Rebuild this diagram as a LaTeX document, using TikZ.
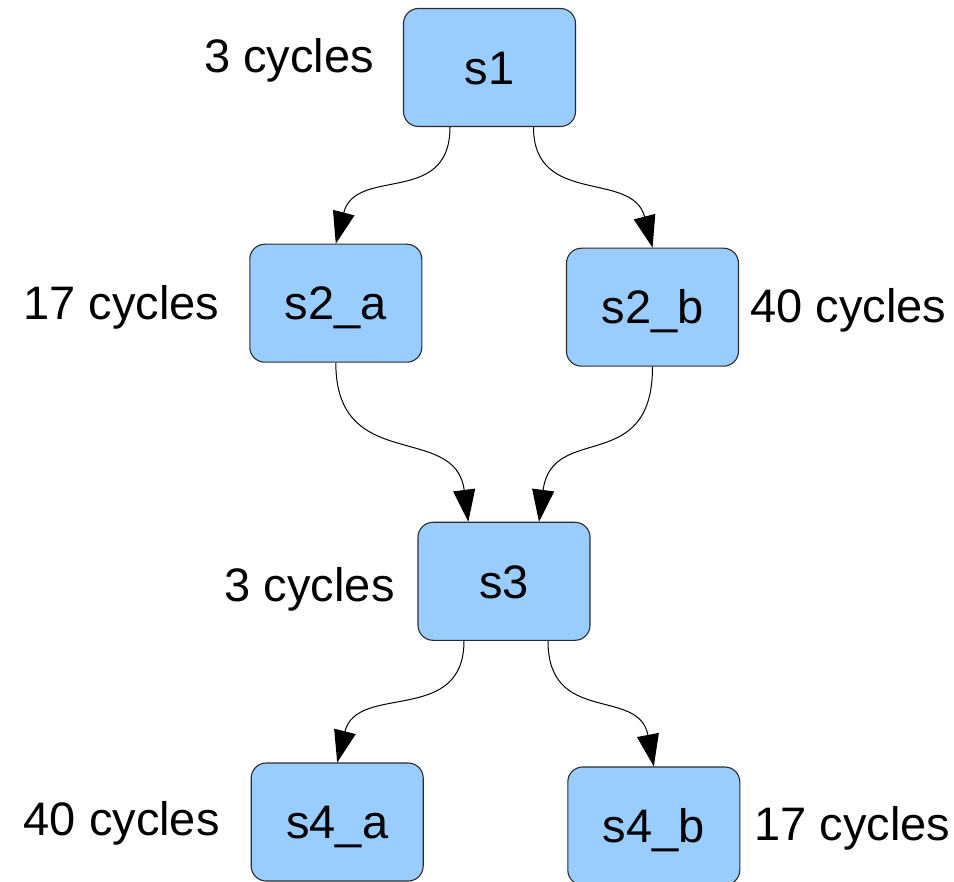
\documentclass[tikz,border=0pt]{standalone}
\usepackage{fontspec}
\setmainfont{Liberation Sans}
\usetikzlibrary{arrows.meta,calc}

\definecolor{stagefill}{HTML}{99CCFF}
\definecolor{stageline}{HTML}{2B2B2B}

\begin{document}
\begin{tikzpicture}[
  x=1pt, y=-1pt,
  every node/.style={font=\fontsize{47}{56}\selectfont, inner sep=0pt},
  stage/.style={draw=stageline, line width=1.1pt, fill=stagefill,
    rounded corners=15pt, minimum width=172pt, minimum height=118pt,
    text height=33.5pt, text depth=0pt},
  cycles/.style={anchor=base},
  conn/.style={draw=black, line width=1pt,
    -{Triangle[length=32pt,width=22pt]}}
]
\useasboundingbox (0,0) rectangle (954,882);

% pipeline stages
\node[stage] (s1)  at (489.5,67.5)  {s1};
\node[stage] (s2a) at (335.8,303.2) {s2\_a};
\node[stage] (s2b) at (652.5,307.2) {s2\_b};
\node[stage] (s3)  at (504,581.3)   {s3};
\node[stage] (s4a) at (337.2,822)   {s4\_a};
\node[stage] (s4b) at (653.8,826)   {s4\_b};

% latency of each stage
\node[cycles] (l1)  at (289.2,72.7)  {3 cycles};
\node[cycles] (l2a) at (121.2,319.3) {17 cycles};
\node[cycles] (l2b) at (848.4,322.3) {40 cycles};
\node[cycles] (l3)  at (309.7,601.7) {3 cycles};
\node[cycles] (l4a) at (121.7,835.7) {40 cycles};
\node[cycles] (l4b) at (852.5,840)   {17 cycles};

% data flow between stages
\draw[conn] ($(s1.south)+(-39.5,0)$) .. controls +(0,80) and +(20,-78) .. (s2a.north);
\draw[conn] ($(s1.south)+(44,0)$) .. controls +(0,80) and +(-20,-78) .. (s2b.north);
\draw[conn] (s2a.south) .. controls +(0,112) and +(-13,-100) .. ($(s3.north)+(-35.7,0)$);
\draw[conn] (s2b.south) .. controls +(0,110) and +(13,-100) .. ($(s3.north)+(35,0)$);
\draw[conn] ($(s3.south)+(-40,0)$) .. controls +(0,85) and +(20,-80) .. (s4a.north);
\draw[conn] ($(s3.south)+(44,0)$) .. controls +(0,85) and +(-15,-80) .. (s4b.north);
\end{tikzpicture}
\end{document}
